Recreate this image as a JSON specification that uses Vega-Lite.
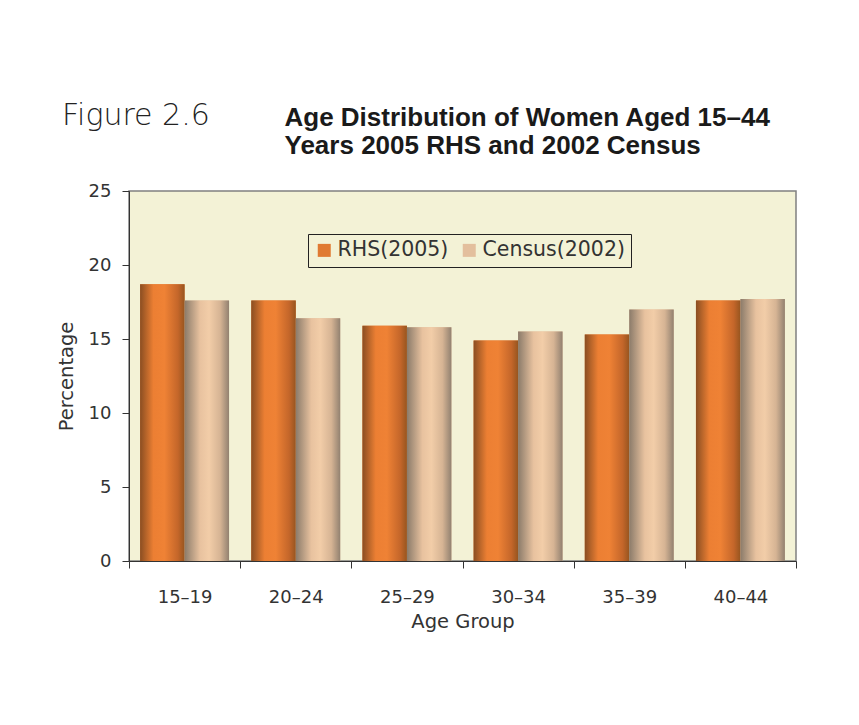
{
  "$schema": "https://vega.github.io/schema/vega-lite/v6.json",
  "width": 667,
  "height": 370,
  "autosize": {"type": "none"},
  "padding": {"left": 129, "top": 191, "right": 63, "bottom": 164},
  "background": "white",
  "title": {
    "text": "Figure 2.6",
    "anchor": "start",
    "frame": "group",
    "dx": -67,
    "dy": 29,
    "offset": -22,
    "baseline": "alphabetic",
    "font": "DejaVu Sans",
    "fontSize": 30,
    "fontWeight": 300,
    "color": "#222222"
  },
  "data": {
    "values": [
      {"age": "15–19", "series": "RHS(2005)", "pct": 18.7},
      {"age": "15–19", "series": "Census(2002)", "pct": 17.6},
      {"age": "20–24", "series": "RHS(2005)", "pct": 17.6},
      {"age": "20–24", "series": "Census(2002)", "pct": 16.4},
      {"age": "25–29", "series": "RHS(2005)", "pct": 15.9},
      {"age": "25–29", "series": "Census(2002)", "pct": 15.8},
      {"age": "30–34", "series": "RHS(2005)", "pct": 14.9},
      {"age": "30–34", "series": "Census(2002)", "pct": 15.5},
      {"age": "35–39", "series": "RHS(2005)", "pct": 15.3},
      {"age": "35–39", "series": "Census(2002)", "pct": 17.0},
      {"age": "40–44", "series": "RHS(2005)", "pct": 17.6},
      {"age": "40–44", "series": "Census(2002)", "pct": 17.7}
    ]
  },
  "config": {
    "view": {"fill": "#F3F2D6", "stroke": "#808080", "strokeWidth": 1.5}
  },
  "encoding": {
    "x": {
      "field": "age",
      "type": "nominal",
      "sort": ["15–19", "20–24", "25–29", "30–34", "35–39", "40–44"],
      "scale": {"paddingInner": 0, "paddingOuter": 0},
      "axis": {
        "title": "Age Group",
        "labelAngle": 0,
        "tickBand": "extent",
        "domainColor": "#333333",
        "tickColor": "#333333",
        "tickSize": 7,
        "labelFont": "DejaVu Sans",
        "labelFontSize": 18,
        "labelColor": "#333333",
        "labelPadding": 20,
        "titleFont": "DejaVu Sans",
        "titleFontSize": 19.5,
        "titleFontWeight": "normal",
        "titleColor": "#333333",
        "titlePadding": 6
      }
    },
    "xOffset": {
      "field": "series",
      "type": "nominal",
      "sort": ["RHS(2005)", "Census(2002)"],
      "scale": {"paddingInner": 0, "paddingOuter": 0.25}
    },
    "y": {
      "field": "pct",
      "type": "quantitative",
      "scale": {"domain": [0, 25]},
      "axis": {
        "title": "Percentage",
        "values": [0, 5, 10, 15, 20, 25],
        "grid": false,
        "domainColor": "#333333",
        "tickColor": "#333333",
        "tickSize": 7,
        "labelFont": "DejaVu Sans",
        "labelFontSize": 18,
        "labelColor": "#333333",
        "labelPadding": 11,
        "titleFont": "DejaVu Sans",
        "titleFontSize": 19.5,
        "titleFontWeight": "normal",
        "titleColor": "#333333",
        "titlePadding": 12
      }
    }
  },
  "layer": [
    {
      "mark": {"type": "bar"},
      "encoding": {
        "color": {
          "field": "series",
          "type": "nominal",
          "scale": {
            "domain": ["RHS(2005)", "Census(2002)"],
            "range": ["#e07a32", "#e3bf9d"]
          },
          "legend": {
            "orient": "none",
            "legendX": 179,
            "legendY": 43,
            "direction": "horizontal",
            "title": null,
            "symbolType": "square",
            "symbolSize": 169,
            "symbolStrokeWidth": 0,
            "labelFont": "DejaVu Sans",
            "labelFontSize": 20.5,
            "labelColor": "#333333",
            "labelOffset": 3,
            "labelLimit": 300,
            "columnPadding": 10,
            "padding": 6,
            "strokeColor": "#222222"
          }
        }
      }
    },
    {
      "mark": {"type": "bar"},
      "encoding": {
        "x": {
          "field": "age",
          "type": "nominal",
          "sort": ["15–19", "20–24", "25–29", "30–34", "35–39", "40–44"],
          "axis": null
        },
        "fill": {
          "condition": {
            "test": "datum.series === 'RHS(2005)'",
            "value": {
              "gradient": "linear",
              "x1": 0, "y1": 0, "x2": 1, "y2": 0,
              "stops": [
                {"offset": 0, "color": "#8a4e22"},
                {"offset": 0.3, "color": "#ec7f33"},
                {"offset": 0.55, "color": "#ef8235"},
                {"offset": 0.85, "color": "#c4662a"},
                {"offset": 1, "color": "#97551f"}
              ]
            }
          },
          "value": {
            "gradient": "linear",
            "x1": 0, "y1": 0, "x2": 1, "y2": 0,
            "stops": [
              {"offset": 0, "color": "#8b7b6a"},
              {"offset": 0.35, "color": "#e8c29f"},
              {"offset": 0.55, "color": "#f2cda8"},
              {"offset": 0.8, "color": "#d6b494"},
              {"offset": 1, "color": "#928170"}
            ]
          }
        }
      }
    },
    {
      "transform": [{"filter": "false"}],
      "mark": {"type": "bar"},
      "encoding": {
        "x": {
          "field": "age",
          "type": "nominal",
          "sort": ["15–19", "20–24", "25–29", "30–34", "35–39", "40–44"],
          "axis": {
            "orient": "top",
            "domain": false,
            "ticks": false,
            "labels": false,
            "title": ["Age Distribution of Women Aged 15–44", "Years 2005 RHS and 2002 Census"],
            "titleX": 155,
            "titleY": -66,
            "titleAlign": "left",
            "titleAnchor": "start",
            "titleBaseline": "alphabetic",
            "titleLineHeight": 28,
            "titleFont": "Liberation Sans",
            "titleFontSize": 26,
            "titleFontWeight": "bold",
            "titleColor": "#1a1a1a"
          }
        },
        "xOffset": null
      }
    }
  ],
  "resolve": {"axis": {"x": "independent"}}
}
